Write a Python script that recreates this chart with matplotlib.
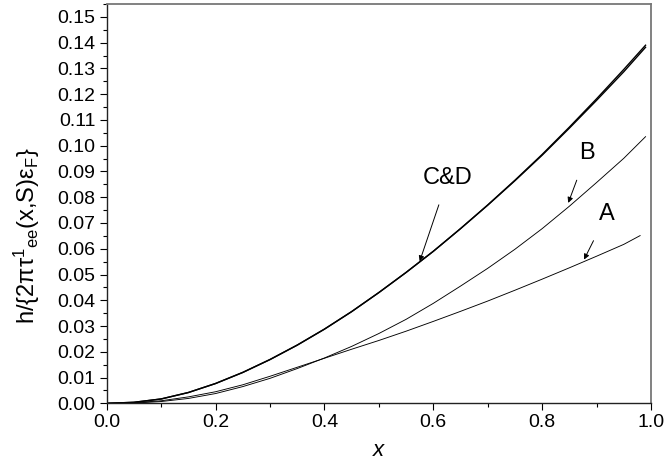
import matplotlib
matplotlib.use("Agg")
import matplotlib.pyplot as plt
from matplotlib.ticker import MultipleLocator, FormatStrFormatter

plt.rcParams['font.family'] = ['Liberation Sans', 'DejaVu Sans']
plt.rcParams['mathtext.fontset'] = 'custom'
plt.rcParams['mathtext.rm'] = 'Liberation Sans'
plt.rcParams['mathtext.it'] = 'Liberation Sans:italic'
plt.rcParams['mathtext.default'] = 'regular'

# data
x_grid = [0.00, 0.05, 0.10, 0.15, 0.20, 0.25, 0.30, 0.35, 0.40, 0.45, 0.50,
          0.55, 0.60, 0.65, 0.70, 0.75, 0.80, 0.85, 0.90, 0.95, 0.99]
curve_C = [0.0, 0.0004, 0.0017, 0.0042, 0.0077, 0.0120, 0.0170, 0.0226, 0.0288, 0.0356, 0.0430,
           0.0508, 0.0590, 0.0678, 0.0770, 0.0866, 0.0966, 0.1072, 0.1182, 0.1296, 0.1390]
curve_D = [0.0, 0.0004, 0.0017, 0.0042, 0.0077, 0.0120, 0.0170, 0.0226, 0.0288, 0.0356, 0.0430,
           0.0508, 0.0590, 0.0678, 0.0769, 0.0864, 0.0963, 0.1068, 0.1176, 0.1287, 0.1382]
curve_B = [0.0, 0.0001, 0.0007, 0.0019, 0.0038, 0.0065, 0.0097, 0.0135, 0.0176, 0.0221, 0.0271,
           0.0326, 0.0388, 0.0455, 0.0524, 0.0598, 0.0678, 0.0765, 0.0857, 0.0951, 0.1035]
x_A = [0.00, 0.05, 0.10, 0.15, 0.20, 0.25, 0.30, 0.35, 0.40, 0.45, 0.50,
       0.55, 0.60, 0.65, 0.70, 0.75, 0.80, 0.85, 0.90, 0.95, 0.98]
curve_A = [0.0, 0.0002, 0.0010, 0.0025, 0.0045, 0.0072, 0.0105, 0.0140, 0.0175, 0.0210, 0.0244,
           0.0280, 0.0318, 0.0357, 0.0397, 0.0439, 0.0482, 0.0526, 0.0571, 0.0617, 0.0651]

labels = ['C&D', 'B', 'A']
label_text_xy = [(0.627, 0.0875), (0.882, 0.097), (0.9185, 0.0733)]
label_arrow_tip = [(0.575, 0.0551), (0.848, 0.0778), (0.877, 0.0558)]

fig = plt.figure(figsize=(6.67, 4.69), dpi=100)
ax = fig.add_axes([0.160, 0.140, 0.816, 0.8515])

ax.plot(x_grid, curve_C, color='black', lw=1.0)
ax.plot(x_grid, curve_D, color='black', lw=1.0)
ax.plot(x_grid, curve_B, color='black', lw=0.65)
ax.plot(x_A, curve_A, color='black', lw=0.65)

for lab, txy, tip in zip(labels, label_text_xy, label_arrow_tip):
    ax.annotate(lab, xy=tip, xytext=txy, ha='center', va='center', fontsize=17,
                arrowprops=dict(arrowstyle='-|>', lw=0.7, color='black',
                                mutation_scale=8, shrinkA=10, shrinkB=0))

ax.set_xlim(0, 1.0)
ax.set_ylim(0, 0.155)
ax.xaxis.set_major_locator(MultipleLocator(0.2))
ax.xaxis.set_minor_locator(MultipleLocator(0.1))
ax.yaxis.set_major_locator(MultipleLocator(0.01))
ax.yaxis.set_minor_locator(MultipleLocator(0.005))
ax.xaxis.set_major_formatter(FormatStrFormatter('%.1f'))
ax.yaxis.set_major_formatter(FormatStrFormatter('%.2f'))
ax.tick_params(which='major', direction='out', length=5, width=0.8, labelsize=14, pad=3)
ax.tick_params(which='minor', direction='out', length=3, width=0.8)
ax.tick_params(top=False, right=False, which='both')

for s in ['left', 'bottom']:
    ax.spines[s].set_color('#222222')
    ax.spines[s].set_linewidth(1.0)
for s in ['top', 'right']:
    ax.spines[s].set_color('#777777')
    ax.spines[s].set_linewidth(1.3)

ax.set_xlabel('x', fontsize=16, style='italic', va='top')
ax.xaxis.set_label_coords(0.5, -0.092)
ax.set_ylabel(r'h/{2$\pi\tau^{1}{}_{ee}$(x,S)$\varepsilon_{F}$}', fontsize=17)
ax.yaxis.set_label_coords(-0.118, 0.42)

fig.savefig('out.png', dpi=100)
